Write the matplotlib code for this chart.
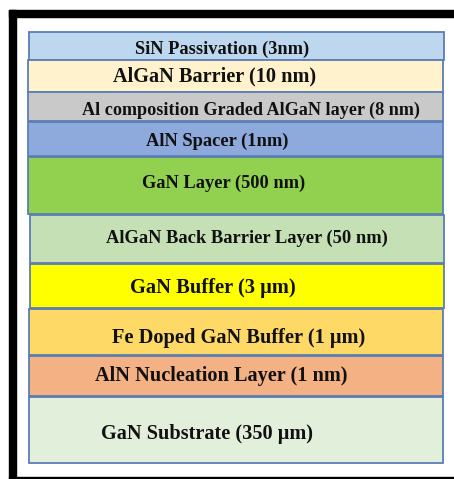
import matplotlib.pyplot as plt
from matplotlib.patches import Rectangle

# layer stack, top to bottom
layers = ["SiN Passivation (3nm)", "AlGaN Barrier (10 nm)",
          "Al composition Graded AlGaN layer (8 nm)", "AlN Spacer (1nm)",
          "GaN Layer (500 nm)", "AlGaN Back Barrier Layer (50 nm)",
          "GaN Buffer (3 \u03bcm)", "Fe Doped GaN Buffer (1 \u03bcm)",
          "AlN Nucleation Layer (1 nm)", "GaN Substrate (350 \u03bcm)"]
colors = ["#BDD7EE", "#FFF2CC", "#C9C9C9", "#8EA9DB", "#92D050",
          "#C5E0B4", "#FFFF00", "#FFD966", "#F4B183", "#E2EFDA"]

# drawing layout (pixels)
tops = [32, 60, 92, 122, 157, 215, 264, 309, 356, 397]
bottoms = [60, 92, 121, 156, 214, 263, 308, 355, 396, 463]
lefts = [29, 28, 28, 28, 28, 30, 30, 29, 29, 29]
rights = [444, 443, 443, 443, 443, 444, 444, 443, 443, 443]
text_x = [222, 215, 251, 217, 224, 247, 213, 239, 221, 207]
text_base = [54, 81.5, 115, 145.5, 187.5, 242.5, 293.5, 342.5, 381.5, 439]
font_sizes = [13.2, 14.6, 13.1, 13.3, 13.2, 13.3, 14.8, 14.7, 14.6, 14.6]

fig = plt.figure(figsize=(4.54, 4.79), dpi=100)
ax = fig.add_axes([0, 0, 1, 1])
ax.set_xlim(0, 454)
ax.set_ylim(479, 0)
ax.axis("off")

# black frame (top, left, bottom)
ax.add_patch(Rectangle((9, 10), 445, 7, color="black"))
ax.add_patch(Rectangle((9, 10), 7, 469, color="black"))
ax.add_patch(Rectangle((9, 476.5), 445, 3, color="black"))

for i, name in enumerate(layers):
    h = bottoms[i] - tops[i]
    w = rights[i] - lefts[i]
    ax.bar(lefts[i], h, width=w, bottom=tops[i], align="edge",
           color=colors[i], edgecolor="#5A7EB5", linewidth=1.3)
    ax.text(text_x[i], text_base[i], name, ha="center",
            va="baseline", fontsize=font_sizes[i], fontweight="bold",
            family="Liberation Serif", color="#111111")

fig.savefig("out.png", dpi=100)
